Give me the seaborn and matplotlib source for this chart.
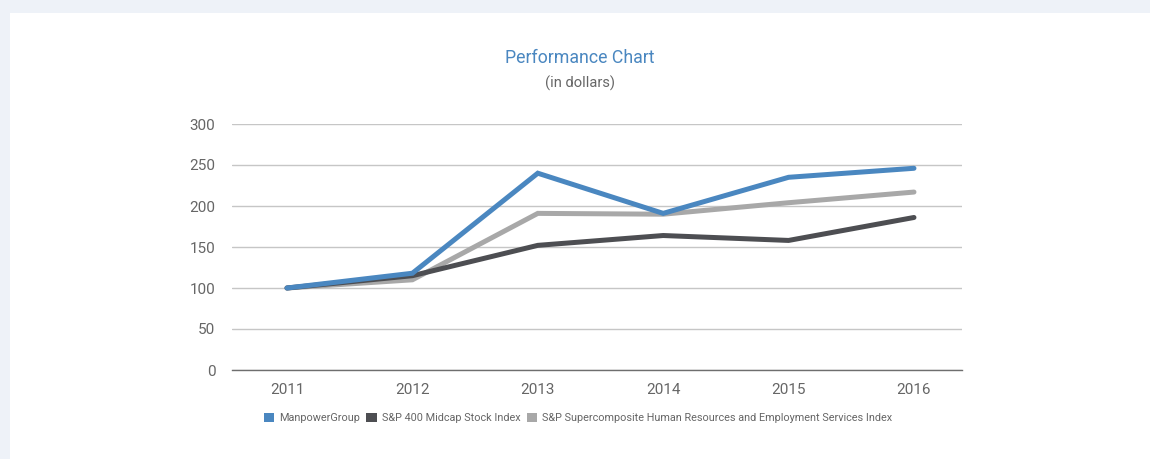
import matplotlib
matplotlib.use("Agg")
import matplotlib.pyplot as plt
import seaborn as sns
import pandas as pd
from matplotlib.patches import Patch, Rectangle

years = [2011, 2012, 2013, 2014, 2015, 2016]
manpower = [100, 118, 240, 191, 235, 246]
midcap = [100, 115, 152, 164, 158, 186]
supercomp = [100, 110, 191, 190, 204, 217]
series_names = ["ManpowerGroup", "S&P 400 Midcap Stock Index",
                "S&P Supercomposite Human Resources and Employment Services Index"]
yticks = [0, 50, 100, 150, 200, 250, 300]

colors = ["#4a87c0", "#4d4e52", "#a8a8a8"]

rows = []
for name, vals in zip(series_names, [manpower, midcap, supercomp]):
    for y, v in zip(years, vals):
        rows.append({"Year": y, "Value": v, "Series": name})
df = pd.DataFrame(rows)

sns.set_theme(style="white")
FONT = ["Roboto", "Liberation Sans", "DejaVu Sans"]
plt.rcParams["font.family"] = FONT

fig = plt.figure(figsize=(11.5, 4.59), dpi=100)
fig.patch.set_facecolor("#eef2f8")
bg = Rectangle((10 / 1150, 0), 1 - 10 / 1150, 1 - 13 / 459,
               transform=fig.transFigure, facecolor="white",
               edgecolor="none", zorder=-10)
fig.patches.append(bg)

ax = fig.add_axes([232 / 1150, 89 / 459, 730 / 1150, 246 / 459])
ax.set_zorder(5)
ax.patch.set_alpha(0)

# draw in order: gray, dark, blue on top
for i in [2, 1, 0]:
    sub = df[df["Series"] == series_names[i]]
    sns.lineplot(data=sub, x="Year", y="Value", ax=ax, color=colors[i],
                 linewidth=3.6, solid_capstyle="round", solid_joinstyle="miter",
                 legend=False, zorder=3 + (2 - i))

ax.set_ylim(0, 300)
ax.set_xlim(2011 - 0.4386, 2016 + 0.383)
ax.set_yticks(yticks)
ax.set_xticks(years)
ax.set_xticklabels([str(y) for y in years])
ax.yaxis.grid(True, color="#c6c6c6", linewidth=1.0)
ax.xaxis.grid(False)
for s in ["top", "right", "left"]:
    ax.spines[s].set_visible(False)
ax.spines["bottom"].set_color("#6e6e6e")
ax.spines["bottom"].set_linewidth(1.0)
ax.tick_params(axis="both", length=0, labelsize=11, colors="#666666")
ax.tick_params(axis="y", pad=12)
ax.tick_params(axis="x", pad=9)
ax.set_xlabel("")
ax.set_ylabel("")
ax.set_axisbelow(True)

fig.text(580 / 1150, 1 - 58 / 459, "Performance Chart", ha="center", va="center",
         fontsize=12.8, color="#4a87c0")
fig.text(580 / 1150, 1 - 83 / 459, "(in dollars)", ha="center", va="center",
         fontsize=10.6, color="#666666")

handles = [Patch(facecolor=c, edgecolor="none") for c in colors]
leg = fig.legend(handles, series_names, loc="center", bbox_to_anchor=(578 / 1150, 1 - 418 / 459),
                 ncol=3, frameon=False, fontsize=7.8, handlelength=0.95, handleheight=0.95,
                 handletextpad=0.45, columnspacing=0.6, labelcolor="#666666")

fig.savefig("out.png", dpi=100, facecolor=fig.get_facecolor())
